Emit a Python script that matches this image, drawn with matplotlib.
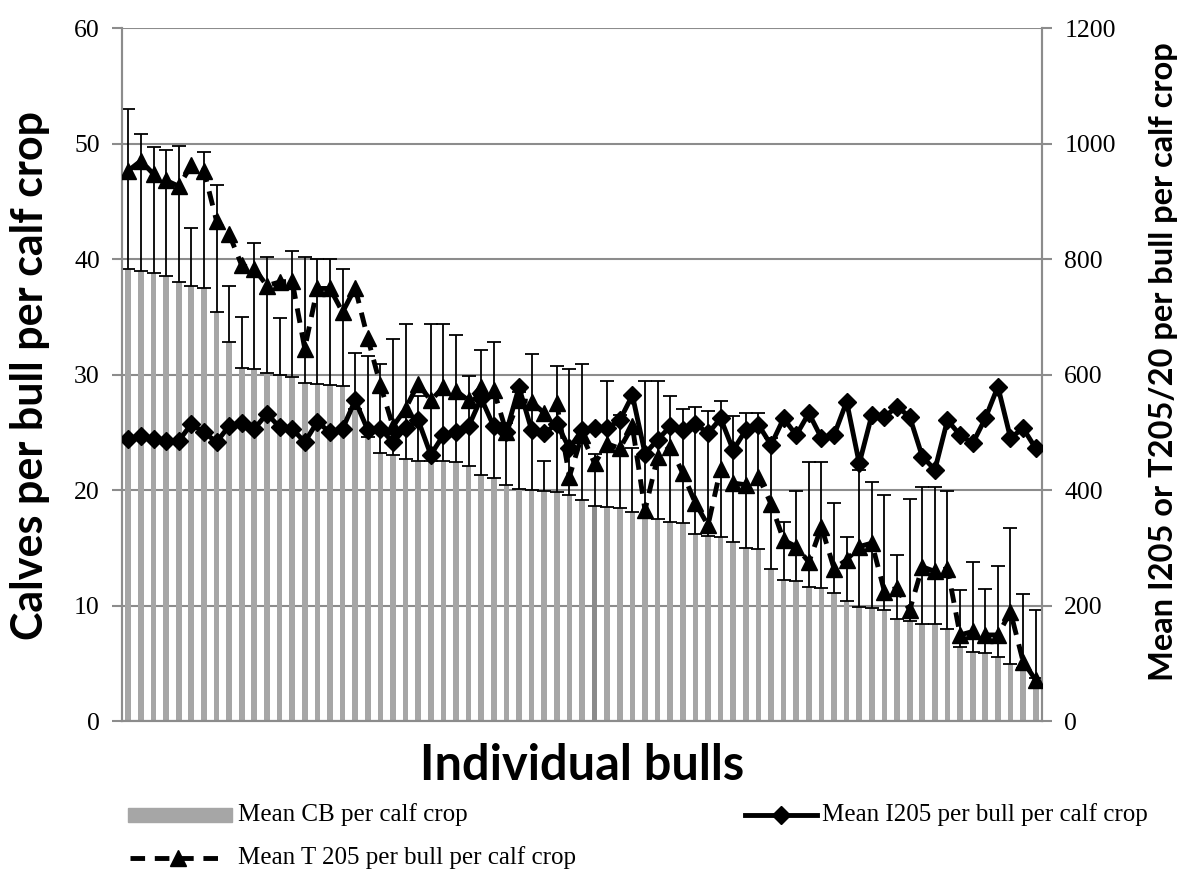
import numpy as np
import matplotlib
matplotlib.use('Agg')
import matplotlib.pyplot as plt
from matplotlib.lines import Line2D
from matplotlib.patches import Rectangle

# ---------------- data ----------------
cb_mean = [39.1, 39.0, 38.8, 38.5, 38.0, 37.7, 37.5, 35.4, 32.8, 30.6,
           30.5, 30.1, 30.0, 29.8, 29.3, 29.2, 29.1, 29.0, 27.0, 24.6,
           23.2, 23.0, 22.7, 22.5, 22.5, 22.5, 22.4, 22.1, 21.3, 21.0,
           20.4, 20.1, 20.0, 19.9, 19.8, 19.6, 19.1, 18.6, 18.5, 18.4,
           18.1, 17.6, 17.5, 17.2, 17.1, 16.2, 16.0, 15.9, 15.5, 15.0,
           14.9, 13.2, 12.2, 12.1, 11.6, 11.5, 11.1, 10.4, 9.9, 9.8,
           9.6, 8.8, 8.7, 8.4, 8.4, 8.0, 6.4, 6.0, 5.9, 5.5,
           4.9, 4.6, 3.7]
cb_err_top = [53.0, 50.8, 49.7, 49.4, 49.8, 42.7, 49.3, 46.4, 37.7, 35.0,
              41.4, 40.2, 34.9, 40.7, 40.2, 40.0, 40.0, 39.1, 31.9, 31.6,
              30.9, 33.1, 34.4, 28.1, 34.4, 34.4, 33.4, 29.9, 32.1, 32.8,
              25.8, 28.5, 31.8, 22.5, 30.7, 30.5, 30.9, 23.1, 29.4, 26.5,
              23.6, 29.4, 29.4, 28.1, 27.0, 27.2, 26.8, 27.7, 26.4, 26.7,
              26.7, 24.5, 17.2, 19.9, 22.4, 22.4, 18.9, 15.9, 21.7, 20.7,
              19.6, 14.4, 19.2, 20.3, 20.3, 19.9, 11.3, 13.8, 11.4, 13.4,
              16.7, 11.0, 9.6]
i205 = [488, 493, 488, 485, 485, 514, 500, 483, 511, 516,
        506, 532, 509, 506, 483, 518, 500, 506, 555, 504,
        506, 483, 507, 521, 461, 495, 501, 510, 559, 510,
        501, 578, 504, 498, 515, 472, 504, 507, 507, 521,
        564, 463, 487, 510, 504, 515, 498, 524, 469, 504,
        513, 478, 524, 495, 533, 490, 495, 553, 446, 530,
        527, 544, 527, 458, 435, 521, 495, 481, 524, 579,
        490, 507, 472]
t205 = [953, 970, 947, 936, 926, 962, 953, 866, 843, 789,
        783, 754, 760, 762, 645, 749, 749, 708, 750, 663,
        582, 510, 541, 584, 555, 578, 572, 555, 579, 573,
        500, 555, 553, 533, 550, 423, 495, 446, 480, 472,
        510, 365, 458, 475, 429, 377, 339, 437, 412, 409,
        423, 376, 313, 302, 275, 336, 264, 279, 302, 308,
        224, 230, 192, 267, 259, 264, 149, 155, 149, 149,
        189, 103, 71]
left_ticks = [0, 10, 20, 30, 40, 50, 60]
right_ticks = [0, 200, 400, 600, 800, 1000, 1200]

legend_labels = ['Mean CB per calf crop',
                 'Mean I205 per bull per calf crop',
                 'Mean T 205 per bull per calf crop']

# ---------------- figure ----------------
W, H = 1184, 877
fig = plt.figure(figsize=(W / 100, H / 100), dpi=100)
ax = fig.add_axes([122 / W, 1 - 721 / H, 920 / W, 693 / H])

n = len(cb_mean)
x = np.arange(n)
err = np.array(cb_err_top) - np.array(cb_mean)
bar_colors = ['#a6a6a6'] * n
bar_colors[37] = '#8a8a8a'

grid_c = '#8c8c8c'
ax.bar(x, cb_mean, width=0.45, color=bar_colors, zorder=2)
ax.errorbar(x, cb_mean, yerr=[np.zeros(n), err], fmt='none', ecolor='black',
            elinewidth=1.3, capsize=5, capthick=1.3, zorder=3)
ax.set_xlim(-0.5, n - 0.5)
ax.set_ylim(0, 60)
ax.set_yticks(left_ticks)
ax.set_xticks([])
ax.yaxis.grid(True, color=grid_c, lw=1.5, zorder=0)
ax.set_axisbelow(True)
for s in ['left', 'right', 'bottom']:
    ax.spines[s].set_color(grid_c)
    ax.spines[s].set_linewidth(1.5)
ax.spines['top'].set_visible(False)
serif = 'Liberation Serif'
ax.tick_params(axis='y', direction='out', length=7, width=1.5, color=grid_c,
               labelsize=18.5, pad=9)
for lab in ax.get_yticklabels():
    lab.set_family(serif)

ax2 = ax.twinx()
ax2.set_ylim(0, 1200)
ax2.set_yticks(right_ticks)
ax2.tick_params(axis='y', direction='out', length=7, width=1.5, color=grid_c,
                labelsize=18.5, pad=9)
for lab in ax2.get_yticklabels():
    lab.set_family(serif)
for s in ['left', 'right', 'bottom']:
    ax2.spines[s].set_color(grid_c)
    ax2.spines[s].set_linewidth(1.5)
ax2.spines['top'].set_visible(False)

ax2.plot(x, i205, color='black', lw=3.5, marker='D', ms=9.5, zorder=4)
ax2.plot(x, t205, color='black', lw=3.5, ls=(0, (3, 2)), marker='^', ms=12,
         zorder=5)

# axis titles
bold = 'Lato'
fig.text(30 / W, 1 - 375 / H, 'Calves per bull per calf crop', rotation=90,
         ha='center', va='center', fontsize=31, fontweight='bold', family=bold)
fig.text(1163 / W, 1 - 362 / H, 'Mean I205 or T205/20 per bull per calf crop',
         rotation=90, ha='center', va='center', fontsize=23.5,
         fontweight='bold', family=bold)
fig.text(582 / W, 1 - 766 / H, 'Individual bulls', ha='center', va='center',
         fontsize=35, fontweight='bold', family=bold)

# legend (manual)
def fx(px):
    return px / W

def fy(py):
    return 1 - py / H

fig.add_artist(Rectangle((fx(128), fy(822)), fx(232) - fx(128), (14 / H),
                         transform=fig.transFigure, color='#a6a6a6'))
fig.text(fx(238), fy(815), legend_labels[0], va='center', fontsize=18,
         family=serif)

fig.add_artist(Line2D([fx(745), fx(817)], [fy(815), fy(815)], color='black',
                      lw=3.5, transform=fig.transFigure))
fig.add_artist(Line2D([fx(781)], [fy(815)], color='black', marker='D', ms=9.5,
                      transform=fig.transFigure))
fig.text(fx(822), fy(815), legend_labels[1], va='center', fontsize=18,
         family=serif)

fig.add_artist(Line2D([fx(130), fx(225)], [fy(858), fy(858)], color='black',
                      lw=3.5, ls=(0, (3, 2)), transform=fig.transFigure))
fig.add_artist(Line2D([fx(178)], [fy(858)], color='black', marker='^', ms=12,
                      transform=fig.transFigure))
fig.text(fx(238), fy(858), legend_labels[2], va='center', fontsize=18,
         family=serif)

fig.savefig('out.png', dpi=100)
